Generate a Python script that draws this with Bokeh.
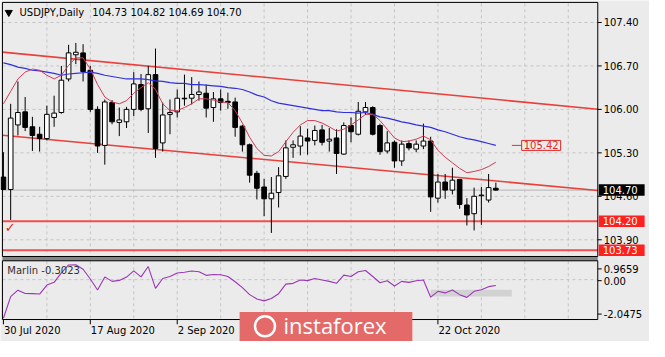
from bokeh.plotting import figure
from bokeh.models import ColumnDataSource, Label, Range1d
from bokeh.core.properties import value
from bokeh.embed import file_html
from bokeh.resources import INLINE

# ---------------- data ----------------
symbol_text = "USDJPY,Daily"
ohlc_text = "104.73 104.82 104.69 104.70"
# visible time-scale labels (18 Sep / 6 Oct are hidden under the watermark)
date_tick_bars = [0, 12, 24, 60]
date_tick_labels = ["30 Jul 2020", "17 Aug 2020", "2 Sep 2020", "22 Oct 2020"]
grid_bars = [6, 12, 18, 24, 30, 36, 42, 48, 54, 60, 66, 72, 78]
price_ticks = [107.40, 106.70, 106.00, 105.30, 104.60, 103.90]

open_ = [104.91, 104.71, 105.75, 105.96, 105.72, 105.60, 105.53, 105.87, 105.95, 106.49,
         106.88, 106.91, 106.63, 106.00, 105.42, 106.11, 105.79, 105.80, 106.00, 106.40,
         106.01, 106.56, 105.46, 105.92, 105.96, 106.18, 106.18, 106.24, 106.26, 106.03,
         106.17, 106.13, 106.12, 105.73, 105.43, 104.97, 104.75, 104.56, 104.66, 104.92,
         105.39, 105.41, 105.54, 105.50, 105.67, 105.49, 105.54, 105.28, 105.74, 105.60,
         105.96, 106.03, 105.74, 105.33, 105.47, 105.17, 105.45, 105.36, 105.41, 105.49,
         104.57, 104.83, 104.70, 104.87, 104.46, 104.32, 104.61, 104.54, 104.73]
high = [105.31, 106.09, 106.45, 106.20, 105.88, 105.72, 106.06, 106.22, 106.70, 107.04,
        107.07, 107.05, 106.70, 106.05, 106.16, 106.15, 106.03, 106.04, 106.60, 106.57,
        106.70, 106.98, 106.11, 106.16, 106.32, 106.56, 106.52, 106.45, 106.40, 106.28,
        106.32, 106.27, 106.19, 105.75, 105.45, 105.01, 104.88, 104.91, 105.07, 105.50,
        105.50, 105.73, 105.69, 105.74, 105.75, 105.70, 105.68, 105.79, 105.87, 106.12,
        106.12, 106.05, 105.77, 105.65, 105.50, 105.50, 105.50, 105.50, 105.77, 105.56,
        104.96, 104.96, 105.06, 104.88, 104.57, 104.74, 104.75, 104.96, 104.82]
low = [104.70, 104.22, 105.58, 105.65, 105.33, 105.32, 105.50, 105.72, 105.93, 106.45,
       106.73, 106.45, 105.96, 105.30, 105.11, 105.76, 105.57, 105.70, 105.89, 105.97,
       105.62, 105.22, 105.32, 105.60, 105.87, 106.06, 106.08, 106.14, 105.87, 105.80,
       105.98, 106.01, 105.56, 105.32, 104.82, 104.55, 104.28, 104.01, 104.42, 104.88,
       105.22, 105.26, 105.27, 105.42, 105.42, 105.32, 104.96, 105.27, 105.47, 105.58,
       105.91, 105.58, 105.27, 105.29, 105.06, 105.09, 105.34, 105.31, 105.36, 104.35,
       104.50, 104.56, 104.63, 104.40, 104.13, 104.05, 104.14, 104.50, 104.69]
close = [104.71, 105.86, 105.95, 105.71, 105.58, 105.53, 105.92, 105.94, 106.47, 106.91,
         106.92, 106.61, 106.00, 105.41, 106.12, 105.80, 105.83, 106.00, 106.41, 106.00,
         106.56, 105.37, 105.91, 105.95, 106.18, 106.17, 106.24, 106.28, 106.02, 106.17,
         106.11, 106.11, 105.71, 105.43, 104.94, 104.73, 104.56, 104.65, 104.93, 105.38,
         105.43, 105.57, 105.49, 105.66, 105.47, 105.52, 105.29, 105.74, 105.64, 105.97,
         106.03, 105.60, 105.32, 105.46, 105.17, 105.44, 105.38, 105.44, 105.49, 104.59,
         104.83, 104.70, 104.86, 104.47, 104.30, 104.60, 104.62, 104.74, 104.70]

ma_fast = [106.09, 106.29, 106.49, 106.60, 106.65, 106.63, 106.55, 106.49, 106.55, 106.71,
           106.83, 106.83, 106.65, 106.40, 106.20, 106.12, 106.09, 106.14, 106.26, 106.35,
           106.43, 106.32, 106.09, 105.98, 105.98, 106.03, 106.09, 106.17, 106.17, 106.15,
           106.12, 106.11, 105.98, 105.78, 105.55, 105.37, 105.26, 105.25, 105.32, 105.48,
           105.63, 105.75, 105.82, 105.82, 105.78, 105.72, 105.65, 105.68, 105.75, 105.83,
           105.92, 105.92, 105.82, 105.68, 105.54, 105.48, 105.49, 105.52, 105.57, 105.51,
           105.34, 105.23, 105.14, 105.05, 104.98, 105.00, 105.03, 105.08, 105.15]
ma_slow = [106.75, 106.72, 106.68, 106.66, 106.63, 106.62, 106.60, 106.58, 106.55, 106.57,
           106.58, 106.59, 106.60, 106.58, 106.55, 106.53, 106.51, 106.49, 106.49, 106.49,
           106.48, 106.46, 106.45, 106.43, 106.42, 106.42, 106.40, 106.40, 106.39, 106.38,
           106.37, 106.35, 106.34, 106.32, 106.28, 106.23, 106.20, 106.14, 106.10, 106.08,
           106.06, 106.04, 106.02, 106.00, 105.98, 105.98, 105.96, 105.95, 105.95, 105.94,
           105.95, 105.92, 105.88, 105.86, 105.83, 105.80, 105.78, 105.75, 105.73, 105.71,
           105.67, 105.64, 105.60, 105.56, 105.53, 105.51, 105.48, 105.45, 105.42]
marlin = [-1.98, -0.87, -0.54, -0.71, -0.72, -0.74, -0.28, -0.14, 0.35, 0.75,
          0.76, 0.53, 0.03, -0.53, 0.14, -0.09, -0.04, 0.13, 0.45, 0.14,
          0.67, -0.45, 0.06, 0.16, 0.34, 0.38, 0.44, 0.40, 0.22, 0.26,
          0.25, 0.16, -0.11, -0.41, -0.77, -0.99, -1.09, -0.97, -0.72, -0.23,
          -0.19, -0.02, -0.05, 0.06, -0.02, -0.09, -0.19, 0.23, 0.16, 0.40,
          0.47, 0.16, -0.16, -0.06, -0.33, -0.09, -0.14, -0.06, -0.02, -0.90,
          -0.60, -0.68, -0.53, -0.77, -0.91, -0.60, -0.52, -0.36, -0.3023]
marlin_label = "Marlin -0.3023"
marlin_max, marlin_min = 0.9659, -2.0475
marlin_tick_labels = ["0.9659", "0.00", "-2.0475"]
marlin_box = dict(left=[59], right=[70.2], bottom=[-0.87], top=[-0.513])

# drawn objects: trend channel anchors (bar, price) and horizontal levels
channel_upper = [(0, 106.921), (80, 106.026)]
channel_lower = [(0, 105.583), (80, 104.717)]
levels = [104.20, 103.73]
last_price = 104.70
ma_slow_last = 105.42
check_mark = (0.95, 104.09)
watermark = "instaforex"

# ---------------- layout helpers (reference-pixel geometry) ----------------
FONT = "DejaVu Sans"
BG = "#ebebeb"
GRID = "#c4c4c4"
W, H = 649, 341


def bx(px):      # horizontal reference pixel -> bar coordinate
    return (px - 3) / 7.42


def py(px):      # vertical reference pixel -> price (main window)
    return 107.40 - (px - 23) / 65.0


def oy(px):      # vertical reference pixel -> Marlin value (indicator window)
    return marlin_max - (px - 272.5) / 20.42


L_EDGE, R_EDGE = bx(2), bx(612)

p = figure(width=W, height=H, x_range=Range1d(bx(0), bx(665)), y_range=Range1d(py(357), py(0)),
           output_backend="svg", toolbar_location=None, x_axis_location=None,
           y_axis_location=None, min_border=0, min_border_left=0, min_border_right=0,
           min_border_top=0, min_border_bottom=0, background_fill_color=BG,
           border_fill_color=BG, outline_line_color=None)
p.extra_y_ranges = {"osc": Range1d(oy(357), oy(0))}
p.grid.visible = False


def txt(x, y, s, color="black", size="10px", align="left", yr="default", **kw):
    p.text(x=x, y=y, text=s, text_color=color, text_font=value(FONT), text_font_size=size,
           text_align=align, text_baseline="middle", y_range_name=yr, **kw)


# ---- grid ----
p.segment(x0=grid_bars, x1=grid_bars, y0=[py(3)] * len(grid_bars), y1=[py(267)] * len(grid_bars),
          line_color=GRID, line_dash="3 3")
p.segment(x0=grid_bars, x1=grid_bars, y0=[oy(273)] * len(grid_bars), y1=[oy(333)] * len(grid_bars),
          line_color=GRID, line_dash="3 3", y_range_name="osc")
p.segment(x0=[L_EDGE] * len(price_ticks), x1=[R_EDGE] * len(price_ticks), y0=price_ticks,
          y1=price_ticks, line_color=GRID, line_dash="3 3")
p.segment(x0=[L_EDGE], x1=[R_EDGE], y0=[0], y1=[0], line_color=GRID, line_dash="3 3",
          y_range_name="osc")

# ---- bid line, levels, channel ----
p.segment(x0=[L_EDGE], x1=[R_EDGE], y0=[last_price], y1=[last_price], line_color="#b4b4b4")
p.segment(x0=[L_EDGE] * 2, x1=[R_EDGE] * 2, y0=levels, y1=levels, line_color="#ee5050",
          line_width=2)


def extend(anchor):
    (xa, ya), (xb, yb) = anchor
    k = (yb - ya) / (xb - xa)
    return [L_EDGE, R_EDGE], [ya + k * (L_EDGE - xa), ya + k * (R_EDGE - xa)]


for ch in (channel_upper, channel_lower):
    cx, cy = extend(ch)
    p.line(cx, cy, line_color="#e8403a", line_width=1.6)

# ---- candles ----
n = len(open_)
src = ColumnDataSource(dict(
    x=list(range(n)), high=high, low=low,
    top=[max(o, c) for o, c in zip(open_, close)],
    bottom=[min(o, c) for o, c in zip(open_, close)],
    fill=["white" if c >= o else "black" for o, c in zip(open_, close)],
))
p.segment(x0="x", y0="high", x1="x", y1="low", source=src, line_color="black", line_width=1)
p.vbar(x="x", top="top", bottom="bottom", width=0.64, source=src,
       fill_color="fill", line_color="black", line_width=1)

# ---- moving averages ----
p.line(list(range(len(ma_slow))), ma_slow, line_color="#3030e0", line_width=1.2)
p.line(list(range(len(ma_fast))), ma_fast, line_color="#cf3a55", line_width=1)

p.line([bx(524), bx(534)], [ma_slow_last, ma_slow_last], line_color="#e83030", line_width=1)
p.add_layout(Label(x=bx(534), y=ma_slow_last, text="%.2f" % ma_slow_last, text_align="left",
                   text_baseline="middle", text_font=FONT, text_font_size="10px",
                   text_color="#e02828", border_line_color="#e02828", background_fill_color=BG,
                   padding=dict(left=2, right=2, top=1, bottom=1)))

txt([check_mark[0]], [check_mark[1]], ["\u2713"], color="#e82020", size="13px", align="center",
    text_font_style="bold")

# ---- title ----
p.scatter(x=[bx(8.5)], y=[py(12.5)], marker="inverted_triangle", size=7, color="black")
txt([bx(19.5)], [py(12.7)], [symbol_text])
txt([bx(94)], [py(12.7)], [ohlc_text])

# ---- window frames ----
p.quad(left=[L_EDGE], right=[R_EDGE], top=[oy(268)], bottom=[oy(272.5)], fill_color="#858585",
       line_color=None, y_range_name="osc")
p.quad(left=[L_EDGE], right=[R_EDGE], top=[py(2)], bottom=[py(268)], fill_color=None,
       line_color="black", line_width=1)
p.quad(left=[L_EDGE], right=[R_EDGE], top=[oy(272.5)], bottom=[oy(334)], fill_color=None,
       line_color="black", line_width=1, y_range_name="osc")

# ---- price scale ----
p.segment(x0=[R_EDGE] * len(price_ticks), x1=[bx(616)] * len(price_ticks), y0=price_ticks,
          y1=price_ticks, line_color="black")
txt([bx(618)] * len(price_ticks), price_ticks, ["%.2f" % t for t in price_ticks])

box_vals = [last_price, levels[0], levels[1]]
box_cols = ["black", "#ff2020", "#ff2020"]
half = 6.0 / 65.0
p.quad(left=[bx(613)] * 3, right=[bx(660)] * 3, top=[v + half for v in box_vals],
       bottom=[v - half for v in box_vals], fill_color=box_cols, line_color=None)
txt([bx(617)] * 3, box_vals, ["%.2f" % v for v in box_vals], color="white")

# ---- indicator window ----
p.quad(source=ColumnDataSource(marlin_box), left="left", right="right", bottom="bottom",
       top="top", fill_color="#d2d2d2", line_color=None, y_range_name="osc")
p.line(list(range(len(marlin))), marlin, line_color="#9b36b8", line_width=1.1,
       y_range_name="osc")
txt([bx(7)], [oy(283)], [marlin_label], color="#303030", yr="osc")
osc_label_px = [281, 293.3, 328.3]
p.segment(x0=[R_EDGE] * 3, x1=[bx(616)] * 3, y0=[oy(v) for v in osc_label_px],
          y1=[oy(v) for v in osc_label_px], line_color="black", y_range_name="osc")
txt([bx(618)] * 3, [oy(v) for v in osc_label_px], marlin_tick_labels, yr="osc")

# ---- time scale ----
p.segment(x0=date_tick_bars, x1=date_tick_bars, y0=[oy(334)] * len(date_tick_bars),
          y1=[oy(339)] * len(date_tick_bars), line_color="black", y_range_name="osc")
txt([b + bx(3.5) for b in date_tick_bars], [oy(345)] * len(date_tick_bars), date_tick_labels,
    yr="osc")

# ---- watermark ----
p.quad(left=[bx(245)], right=[bx(422)], top=[oy(326)], bottom=[oy(357)], fill_color="#e46a6a",
       line_color=None, y_range_name="osc")
p.scatter(x=[bx(271)], y=[oy(341)], marker="circle", size=20, fill_color=None,
          line_color="white", line_width=2.5, y_range_name="osc")
p.text(x=[bx(290)], y=[oy(340)], text=[watermark], text_color="white",
       text_font=value("Open Sans"), text_font_size="22px", text_align="left",
       text_baseline="middle", y_range_name="osc")

open("out.html", "w").write(file_html(p, INLINE))
